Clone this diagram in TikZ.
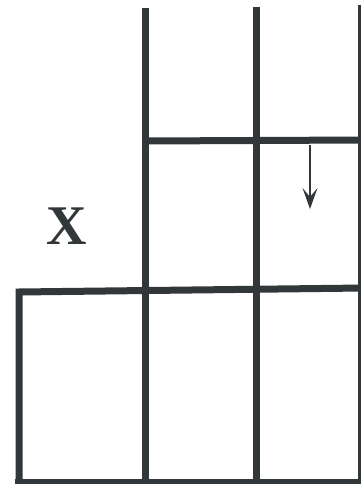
\documentclass[tikz,border=0pt]{standalone}
\usepackage{fontspec}
\setmainfont{Liberation Serif}
\usetikzlibrary{arrows.meta}

\definecolor{ink}{RGB}{50,56,58}
\tikzset{
  wall/.style={ink,line width=7pt},
  thin wall/.style={ink,line width=2pt},
}

\begin{document}
\begin{tikzpicture}[x=1pt,y=-1pt]
  \useasboundingbox (0,0) rectangle (360,484);

  % upper columns
  \draw[wall] (145,8) -- (145,484);
  \draw[wall] (256,7) -- (256,484);
  \draw[wall] (361,5) -- (361,484);
  \draw[wall] (145,141) -- (364,140);

  % lower row
  \draw[wall,line cap=rect] (19,482) -- (19,292) -- (364,288);
  \draw[wall] (15,482) -- (364,482);

  \node[ink,font=\fontsize{56}{56}\selectfont\bfseries] (lblX) at (67,226) {X};

  \coordinate (arrTop) at (310,145);
  \coordinate (arrEnd) at (310,209);
  \draw[thin wall,-{Stealth[length=21pt,width=15pt,inset=9pt]}] (arrTop) -- (arrEnd);
\end{tikzpicture}
\end{document}
